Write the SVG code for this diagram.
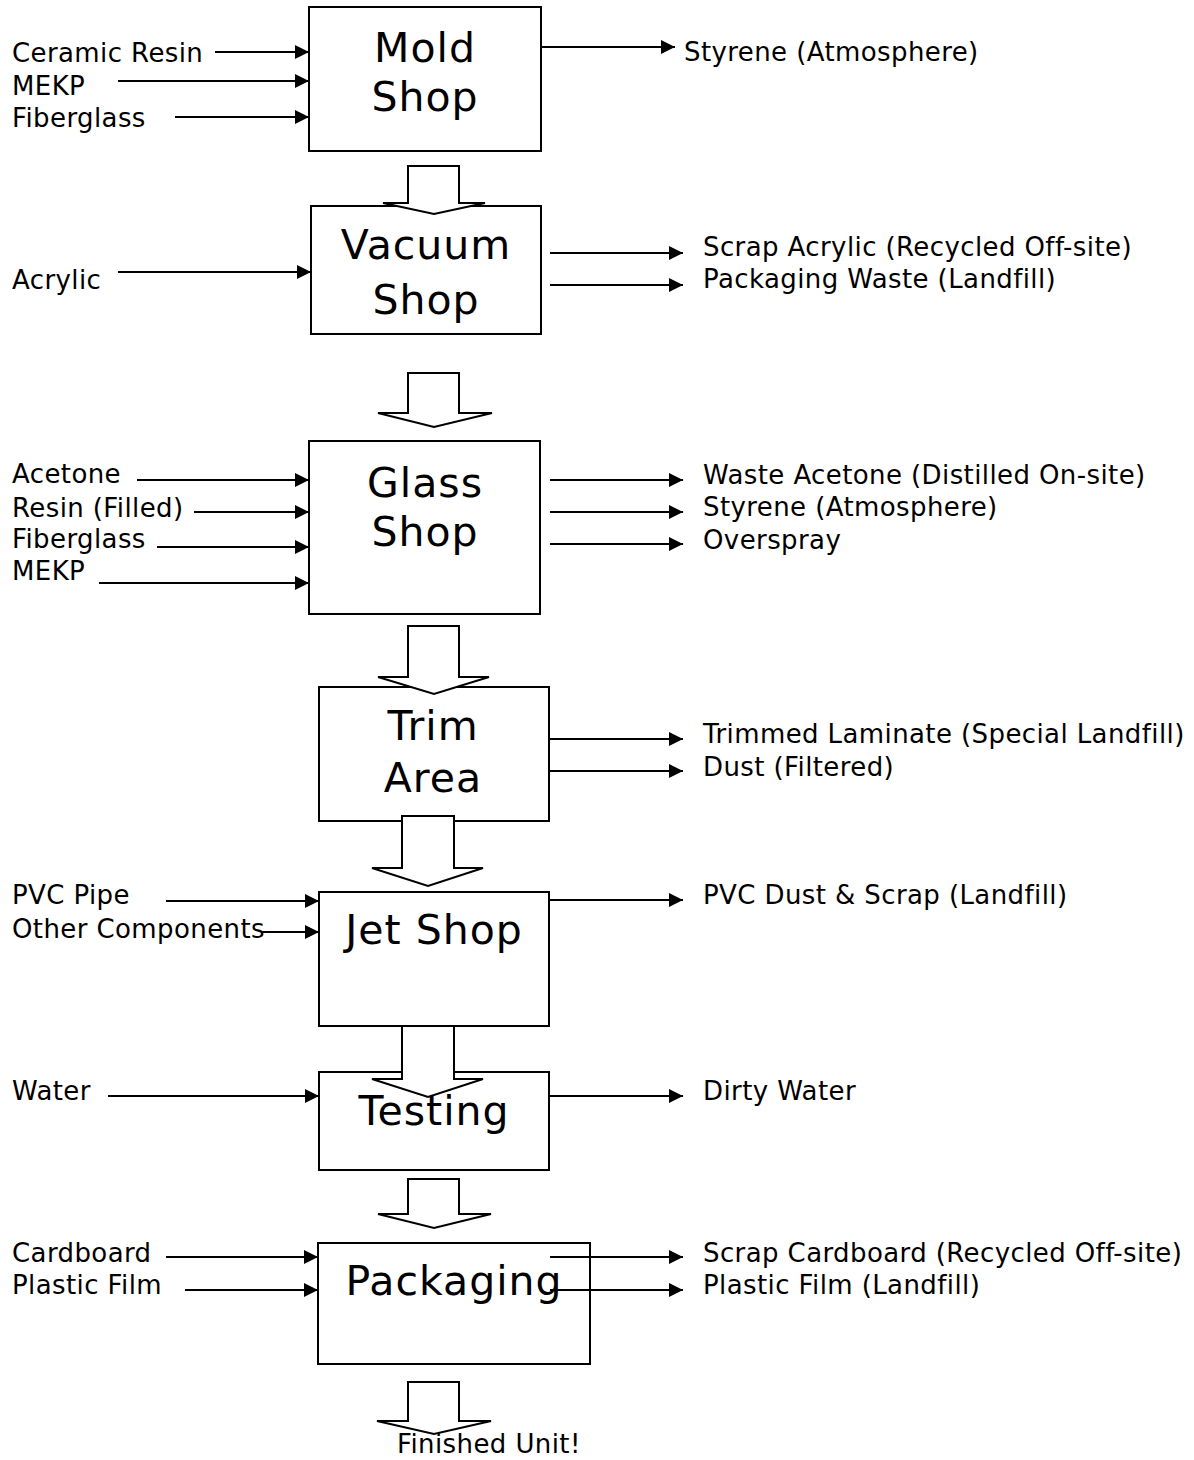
<svg xmlns="http://www.w3.org/2000/svg" width="1194" height="1460" viewBox="0 0 1194 1460">
<style>
.box{fill:#fff;stroke:#000;stroke-width:2}
.ha{fill:#fff;stroke:#000;stroke-width:2;stroke-linejoin:miter}
.ln{stroke:#000;stroke-width:2;fill:none;marker-end:url(#ah)}
.lbl{font-family:"DejaVu Sans",Verdana,sans-serif;font-size:26px;letter-spacing:0.4px;fill:#000}
.ttl{font-family:"DejaVu Sans",Verdana,sans-serif;font-size:41px;letter-spacing:1px;fill:#000;text-anchor:middle}
</style>
<defs>
<marker id="ah" markerUnits="userSpaceOnUse" markerWidth="15" markerHeight="14" refX="14" refY="7" orient="auto">
<path d="M0,0 L14,7 L0,14 z" fill="#000"/>
</marker>
</defs>
<rect width="1194" height="1460" fill="#fff"/>

<g id="node-mold">
<rect class="box" x="309" y="7" width="232" height="144"/>
<text class="ttl" x="425" y="62">Mold</text>
<text class="ttl" x="425" y="111">Shop</text>
</g>
<g id="node-vacuum">
<rect class="box" x="311" y="206" width="230" height="128"/>
<text class="ttl" x="426" y="259">Vacuum</text>
<text class="ttl" x="426" y="314">Shop</text>
</g>
<g id="node-glass">
<rect class="box" x="309" y="441" width="231" height="173"/>
<text class="ttl" x="425" y="497">Glass</text>
<text class="ttl" x="425" y="546">Shop</text>
</g>
<g id="node-trim">
<rect class="box" x="319" y="687" width="230" height="134"/>
<text class="ttl" x="433" y="740">Trim</text>
<text class="ttl" x="433" y="792">Area</text>
</g>
<g id="node-jet">
<rect class="box" x="319" y="892" width="230" height="134"/>
<text class="ttl" x="434" y="944" letter-spacing="2.5">Jet Shop</text>
</g>
<g id="node-testing">
<rect class="box" x="319" y="1072" width="230" height="98"/>
</g>
<g id="node-packaging">
<rect class="box" x="318" y="1243" width="272" height="121"/>
</g>

<g id="flow-arrows">
<polygon class="ha" points="408,166 459,166 459,203 485,203 434,214 383,203 408,203"/>
<polygon class="ha" points="408,373 459,373 459,413 492,413 434,427 378,413 408,413"/>
<polygon class="ha" points="408,626 459,626 459,677 489,677 434,694 378,677 408,677"/>
<polygon class="ha" points="402,816 454,816 454,868 483,868 428,886 372,868 402,868"/>
<polygon class="ha" points="402,1026 454,1026 454,1079 483,1079 428,1097 372,1079 402,1079"/>
<polygon class="ha" points="408,1179 459,1179 459,1214 491,1214 434,1228 378,1214 408,1214"/>
<polygon class="ha" points="408,1382 459,1382 459,1421 491,1421 434,1434 377,1421 408,1421"/>
</g>

<g id="node-testing-label">
<text class="ttl" x="434" y="1125">Testing</text>
</g>
<g id="node-packaging-label">
<text class="ttl" x="454" y="1295">Packaging</text>
</g>

<g id="connectors">
<line class="ln" x1="215" y1="52" x2="309" y2="52"/>
<line class="ln" x1="118" y1="81" x2="309" y2="81"/>
<line class="ln" x1="175" y1="117" x2="309" y2="117"/>
<line class="ln" x1="541" y1="47" x2="675" y2="47"/>

<line class="ln" x1="118" y1="272" x2="311" y2="272"/>
<line class="ln" x1="550" y1="253" x2="683" y2="253"/>
<line class="ln" x1="550" y1="285" x2="683" y2="285"/>

<line class="ln" x1="137" y1="480" x2="309" y2="480"/>
<line class="ln" x1="194" y1="512" x2="309" y2="512"/>
<line class="ln" x1="157" y1="547" x2="309" y2="547"/>
<line class="ln" x1="99" y1="583" x2="309" y2="583"/>
<line class="ln" x1="550" y1="480" x2="683" y2="480"/>
<line class="ln" x1="550" y1="512" x2="683" y2="512"/>
<line class="ln" x1="550" y1="544" x2="683" y2="544"/>

<line class="ln" x1="549" y1="739" x2="683" y2="739"/>
<line class="ln" x1="549" y1="771" x2="683" y2="771"/>

<line class="ln" x1="166" y1="901" x2="319" y2="901"/>
<line class="ln" x1="262" y1="932" x2="319" y2="932"/>
<line class="ln" x1="549" y1="900" x2="683" y2="900"/>

<line class="ln" x1="108" y1="1096" x2="319" y2="1096"/>
<line class="ln" x1="549" y1="1096" x2="683" y2="1096"/>

<line class="ln" x1="166" y1="1257" x2="318" y2="1257"/>
<line class="ln" x1="185" y1="1290" x2="318" y2="1290"/>
<line class="ln" x1="550" y1="1257" x2="683" y2="1257"/>
<line class="ln" x1="550" y1="1290" x2="683" y2="1290"/>
</g>

<g id="labels">
<text class="lbl" x="12" y="62">Ceramic Resin</text>
<text class="lbl" x="12" y="95">MEKP</text>
<text class="lbl" x="12" y="127">Fiberglass</text>
<text class="lbl" x="684" y="61">Styrene (Atmosphere)</text>

<text class="lbl" x="12" y="289">Acrylic</text>
<text class="lbl" x="703" y="256">Scrap Acrylic (Recycled Off-site)</text>
<text class="lbl" x="703" y="288">Packaging Waste (Landfill)</text>

<text class="lbl" x="12" y="483">Acetone</text>
<text class="lbl" x="12" y="517">Resin (Filled)</text>
<text class="lbl" x="12" y="548">Fiberglass</text>
<text class="lbl" x="12" y="580">MEKP</text>
<text class="lbl" x="703" y="484">Waste Acetone (Distilled On-site)</text>
<text class="lbl" x="703" y="516">Styrene (Atmosphere)</text>
<text class="lbl" x="703" y="549">Overspray</text>

<text class="lbl" x="703" y="743">Trimmed Laminate (Special Landfill)</text>
<text class="lbl" x="703" y="776">Dust (Filtered)</text>

<text class="lbl" x="12" y="904">PVC Pipe</text>
<text class="lbl" x="12" y="938">Other Components</text>
<text class="lbl" x="703" y="904">PVC Dust &amp; Scrap (Landfill)</text>

<text class="lbl" x="12" y="1100">Water</text>
<text class="lbl" x="703" y="1100">Dirty Water</text>

<text class="lbl" x="12" y="1262">Cardboard</text>
<text class="lbl" x="12" y="1294">Plastic Film</text>
<text class="lbl" x="703" y="1262">Scrap Cardboard (Recycled Off-site)</text>
<text class="lbl" x="703" y="1294">Plastic Film (Landfill)</text>

<text class="lbl" x="397" y="1453" letter-spacing="0">Finished Unit!</text>
</g>
</svg>
